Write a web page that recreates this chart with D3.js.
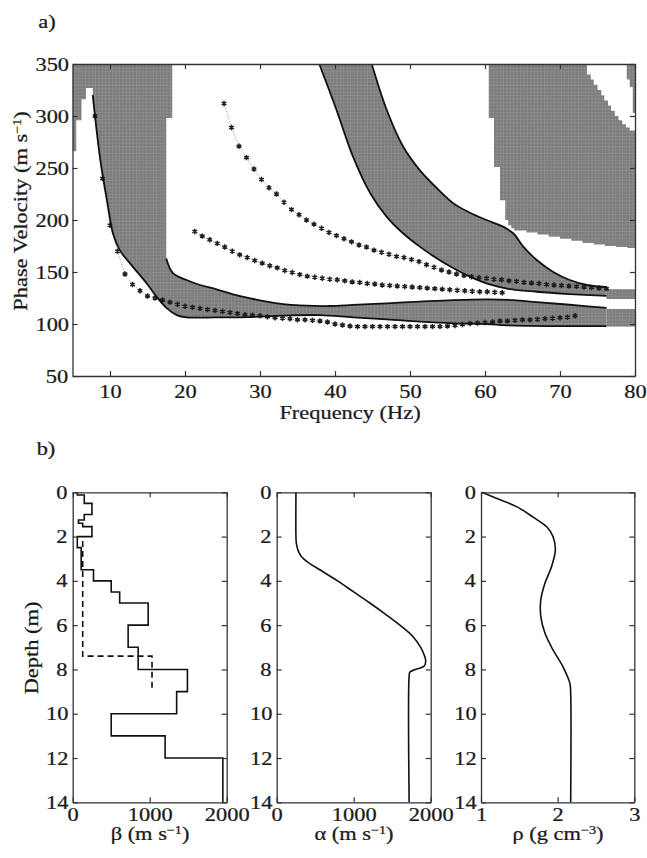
<!DOCTYPE html>
<html>
<head>
<meta charset="utf-8">
<script src="https://d3js.org/d3.v7.min.js"></script>
<style>
body { margin: 0; background: #fff; }
svg text {
  font-family: "Liberation Serif", "Times New Roman", serif;
  font-size: 19px;
  fill: #1a1a1a;
  stroke: #1a1a1a;
  stroke-width: 0.25px;
  transform-box: fill-box;
  transform-origin: center;
  transform: scaleX(1.18);
}
svg tspan.sup { font-size: 12px; }
</style>
</head>
<body>
<svg id="chart" width="647" height="858"></svg>
<script>
// ---- panel a) : dispersion data (frequency Hz, phase velocity m/s) ----
var freqTicks = [10, 20, 30, 40, 50, 60, 70, 80];
var velTicks = [50, 100, 150, 200, 250, 300, 350];

// black curves bounding the shaded bands
var bandOneLower = [[7.7,320],[8.7,258],[9.6,219],[10.4,187],[11.3,171],[12.7,158],[14.9,139],[16.2,126.3],[17.6,115],
  [18.9,108.6],[20.2,106.4],[24.2,106.4],[28.7,106.7],[33.1,108],[38,108.6],[42.4,106.4],[46.9,104.5],
  [51.3,102.2],[55.8,100.6],[60.2,100],[62.9,98.7],[69.1,98],[76.2,98]];
var bandOneUpper = [[17.5,163],[18.4,148.8],[20.2,142.3],[22,137.5],[24.2,133.4],[26.4,128.6],[28.7,124.7],
  [30.9,121.5],[33.1,119.2],[35.3,118],[39.3,117.3],[42.4,118.3],[46.9,119.9],[51.3,121.5],[55.8,123],
  [60.2,123.7],[63.8,123],[66.9,121],[71.3,118.5],[76.2,115.5]];
var bandTwoLower = [[37.9,350],[40.2,305.8],[42.4,260.9],[44.7,225.7],[46.9,203],[49.1,187],[51.3,174.4],
  [53.6,163],[55.8,153.6],[58,145.5],[60.2,139],[62.9,134],[66.9,131],[71.3,128.8],[76.2,127]];
var bandTwoUpper = [[44.9,350],[46.9,305.8],[49.1,270.5],[51.3,248],[53.6,230.5],[55.8,216],[58,207],
  [60.2,200],[62.4,193.6],[63.8,187],[65.1,174.4],[66.9,161.5],[69.1,150],[71.3,142.3],[73.6,137.5],[76.2,135.5]];

// shaded block edges
var leftBlockTop = [[5,266],[5,350],[18.3,350],[18.3,298],[17.5,298]];
var leftBlockNotch = [[7.7,327],[6.8,327],[6.8,316],[6.2,316],[6.2,296],[5.5,296],[5.5,266]];
var rightBlockLeft = [[60.5,350],[60.5,298],[61.2,298],[61.2,251],[62,251],[62,219],[62.7,219],[62.7,205]];
var rightBlockBottom = [[62.7,205],[63.1,200],[63.5,195],[63.9,192],[65.5,190],[67,188],[68.5,186],[70,184],
  [71.5,182],[73,180],[74.5,178],[76,176.5],[77.5,175],[79,174],[80,173]];
var whiteNotchLeft = [[73.6,350],[73.6,345],[74.1,340],[74.5,335],[75,330],[75.5,325],[75.9,320],[76.4,315],
  [76.8,310],[77.3,305],[77.8,300],[78.3,296],[78.8,292],[79.3,289],[79.8,286]];
var whiteNotchRight = [[80,286],[80,303],[79.7,303],[79.7,328],[79.3,328],[79.3,335],[78.9,335],[78.9,350]];
var tailBands = [[76.2,80,124,133.5],[76.2,80,97.5,114.5]];

// observed (asterisk) dispersion picks
var pickOne = [[8,300],[9,240],[10,195],[11,170],[12,148],[13,138],[14,132],[15,127],[16,125],[17,123],
  [18,121],[19,119],[20,117],[21,116],[22,115],[23,114],[24,113],[25,112],[26,111],[27,110],[28,109],
  [29,108.5],[30,108],[31,107],[32,106],[33,105.5],[34,105],[35,104],[36,104],[37,103.5],[38,103],
  [39,102],[40,100],[41,99],[42,98],[43,97.5],[44,97.5],[45,97.5],[46,97.5],[47,97.5],[48,97.5],
  [49,97.5],[50,97.5],[51,97.5],[52,97.5],[53,97.5],[54,97.5],[55,98],[56,98.5],[57,99.5],[58,100.5],
  [59,101],[60,101.5],[61,102],[62,103],[63,103],[64,103.5],[65,104],[66,104],[67,104.5],[68,105],
  [69,105.5],[70,106],[71,106.5],[72,108]];
var pickTwo = [[25.2,312],[26.2,289],[27.2,271],[28.2,260],[29.2,249],[30.2,239],[31.2,231],[32.2,225],
  [33.2,217],[34.2,210],[35.2,205],[36.2,200],[37.2,196],[38.2,192],[39.2,188],[40.2,185],[41.2,182],
  [42.2,179],[43.2,176],[44.2,174],[45.2,171],[46.2,169],[47.2,167],[48.2,165],[49.2,164],[50.2,162],
  [51.2,160],[52.2,157],[53.2,154.5],[54.2,152],[55.2,150],[56.2,148],[57.2,146.5],[58.2,145.5],
  [59.2,144.5],[60.2,144],[61.2,143],[62.2,142.5],[63.2,141.5],[64.2,141],[65.2,140],[66.2,139.5],
  [67.2,139],[68.2,138],[69.2,137.5],[70.2,137],[71.2,136.5],[72.2,136],[73.2,135.5],[74.2,135],
  [75.2,134.5],[76.2,134]];
var pickThree = [[21.3,189],[22.3,184.5],[23.3,181],[24.3,177.5],[25.3,174],[26.3,170],[27.3,166.5],
  [28.3,164],[29.3,161],[30.3,158.5],[31.3,156],[32.3,154],[33.3,151.5],[34.3,149.5],[35.3,147.5],
  [36.3,146],[37.3,145],[38.3,144],[39.3,143],[40.3,142.5],[41.3,141.5],[42.3,140.5],[43.3,140],
  [44.3,139],[45.3,138.5],[46.3,137.5],[47.3,137],[48.3,136.5],[49.3,136],[50.3,135.5],[51.3,135],
  [52.3,134.5],[53.3,134],[54.3,133.5],[55.3,133],[56.3,132.5],[57.3,132],[58.3,131.5],[59.3,131],
  [60.3,131],[61.3,130.5],[62.3,130]];

// ---- panel b) : profiles against depth (m) ----
var depthTicks = [0, 2, 4, 6, 8, 10, 12, 14];
var speedTicks = [0, 1000, 2000];
var densityTicks = [1, 2, 3];
var betaLayerTop = [0,0.12,0.5,1.0,1.25,1.4,1.55,2.0,2.5,3.5,4.0,4.5,5.0,6.0,7.0,8.0,9.0,10.0,11.0,12.0,14.0];
var betaLayerVal = [60,150,250,150,75,130,250,60,110,270,500,610,980,720,850,1490,1350,500,1200,1950];
var betaStart = [[130,2.2],[130,7.4],[1030,7.4],[1030,8.85]];
var alphaProfile = [[250,0],[250,2.0],[255,2.3],[275,2.6],[320,2.9],[420,3.2],[560,3.5],[790,4.0],[1000,4.5],
  [1210,5.0],[1410,5.5],[1600,6.0],[1765,6.5],[1870,7.0],[1910,7.3],[1935,7.6],[1915,7.85],[1800,8.0],
  [1730,8.12],[1720,8.3],[1720,14]];
var rhoProfile = [[1.01,0],[1.2,0.27],[1.47,0.66],[1.68,1.12],[1.86,1.57],[1.94,2.0],[1.97,2.6],[1.92,3.36],
  [1.835,4.1],[1.78,4.86],[1.78,5.6],[1.835,6.37],[1.94,7.12],[2.07,7.88],[2.16,8.63],[2.17,9.08],[2.17,14]];

var svg = d3.select('#chart');

var defs = svg.append('defs');
var pat = defs.append('pattern').attr('id', 'cells')
  .attr('width', 3.4).attr('height', 3.4).attr('patternUnits', 'userSpaceOnUse');
pat.append('rect').attr('width', 3.4).attr('height', 3.4).attr('fill', '#7c7c7c');
pat.append('path').attr('d', 'M0 0.3H3.4M0.3 0V3.4').attr('stroke', '#959595').attr('stroke-width', 0.6);

// scales
var fx = d3.scaleLinear().domain([5, 80]).range([72.5, 635]);
var vy = d3.scaleLinear().domain([50, 350]).range([376, 64]);
var dy = d3.scaleLinear().domain([0, 14]).range([492.3, 802.3]);
var betaX = d3.scaleLinear().domain([0, 2000]).range([72.7, 226.7]);
var alphaX = d3.scaleLinear().domain([0, 2000]).range([276.7, 430.7]);
var rhoX = d3.scaleLinear().domain([1, 3]).range([481, 634.3]);

var straight = d3.line().x(function (d) { return fx(d[0]); }).y(function (d) { return vy(d[1]); });
var smooth = d3.line().curve(d3.curveCatmullRom).x(function (d) { return fx(d[0]); }).y(function (d) { return vy(d[1]); });
function joined(parts) {
  return parts.map(function (p, i) {
    var s = (p.smooth ? smooth : straight)(p.pts);
    return i ? 'L' + s.slice(1) : s;
  }).join('') + 'Z';
}

// ---- panel a ----
svg.append('clipPath').attr('id', 'clipA').append('rect')
  .attr('x', fx(5)).attr('y', vy(350)).attr('width', fx(80) - fx(5)).attr('height', vy(50) - vy(350));
var a = svg.append('g').attr('clip-path', 'url(#clipA)');

a.append('path').attr('fill', 'url(#cells)').attr('d', joined([
  { pts: leftBlockTop },
  { pts: bandOneUpper, smooth: true },
  { pts: bandOneLower.slice().reverse(), smooth: true },
  { pts: leftBlockNotch }
]));
a.append('path').attr('fill', 'url(#cells)').attr('d', joined([
  { pts: bandTwoLower, smooth: true },
  { pts: bandTwoUpper.slice().reverse(), smooth: true }
]));
a.selectAll('rect.tail').data(tailBands).enter().append('rect').attr('class', 'tail')
  .attr('fill', 'url(#cells)')
  .attr('x', function (d) { return fx(d[0]); }).attr('width', function (d) { return fx(d[1]) - fx(d[0]); })
  .attr('y', function (d) { return vy(d[3]); }).attr('height', function (d) { return vy(d[2]) - vy(d[3]); });

var stairs = d3.line().curve(d3.curveStepBefore).x(function (d) { return fx(d[0]); }).y(function (d) { return vy(d[1]); });
a.append('path').attr('fill', 'url(#cells)').attr('d',
  straight(rightBlockLeft) + 'L' + stairs(rightBlockBottom).slice(1) + 'L' + fx(80) + ',' + vy(350) + 'Z');
a.append('path').attr('fill', '#fff').attr('d',
  stairs(whiteNotchLeft) + 'L' + straight(whiteNotchRight).slice(1) + 'Z');

// picks: dotted connector + asterisks
[pickOne, pickTwo, pickThree].forEach(function (pick) {
  a.append('path').attr('d', straight(pick)).attr('fill', 'none')
    .attr('stroke', '#777').attr('stroke-width', 0.8).attr('stroke-dasharray', '1 1.6');
  a.selectAll(null).data(pick).enter().append('path')
    .attr('transform', function (d) { return 'translate(' + fx(d[0]) + ',' + vy(d[1]) + ')'; })
    .attr('d', d3.symbol().type(d3.symbolAsterisk).size(20))
    .attr('fill', 'none').attr('stroke', '#1e1e1e').attr('stroke-width', 1.5);
});

[bandOneLower, bandOneUpper, bandTwoLower, bandTwoUpper].forEach(function (c) {
  a.append('path').attr('d', smooth(c)).attr('fill', 'none')
    .attr('stroke', '#111').attr('stroke-width', 1.8);
});

// box with inward ticks on all four sides, labels bottom and left
function frame(g, x, y, xt, yt, xpad) {
  var x0 = x.range()[0], x1 = x.range()[1];
  var yb = d3.max(y.range()), yt0 = d3.min(y.range());
  g.append('g').attr('transform', 'translate(0,' + yb + ')')
    .call(d3.axisBottom(x).tickValues(xt).tickSize(-5).tickSizeOuter(0).tickPadding(xpad).tickFormat(d3.format('d')));
  g.append('g').attr('transform', 'translate(0,' + yt0 + ')')
    .call(d3.axisTop(x).tickValues(xt).tickSize(-5).tickSizeOuter(0).tickFormat(''));
  g.append('g').attr('transform', 'translate(' + x0 + ',0)')
    .call(d3.axisLeft(y).tickValues(yt).tickSize(-5).tickSizeOuter(0).tickPadding(6).tickFormat(d3.format('d')));
  g.append('g').attr('transform', 'translate(' + x1 + ',0)')
    .call(d3.axisRight(y).tickValues(yt).tickSize(-5).tickSizeOuter(0).tickFormat(''));
  g.selectAll('.domain').attr('stroke', '#333').attr('stroke-width', 1.3);
  g.selectAll('.tick line').attr('stroke', '#333').attr('stroke-width', 1.2);
}
frame(svg.append('g'), fx, vy, freqTicks, velTicks, 9);

function label(x, y, rot, parts) {
  var t = svg.append('g').attr('transform', 'translate(' + x + ',' + y + ')' + (rot ? ' rotate(' + rot + ')' : ''))
    .append('text').attr('text-anchor', 'middle');
  parts.forEach(function (p) {
    var s = t.append('tspan').text(p[0]);
    if (p[1]) s.attr('class', 'sup').attr('baseline-shift', 'super');
  });
}
label(47, 28, 0, [['a)']]);
label(350, 419, 0, [['Frequency (Hz)']]);
label(27, 211, -90, [['Phase Velocity (m s'], ['\u22121', true], [')']]);

// ---- panel b ----
var betaPts = [];
betaLayerVal.forEach(function (v, i) { betaPts.push([v, betaLayerTop[i]], [v, betaLayerTop[i + 1]]); });

function profile(x, pts, dash, curve) {
  var ln = d3.line().x(function (d) { return x(d[0]); }).y(function (d) { return dy(d[1]); });
  if (curve) ln.curve(d3.curveCatmullRom);
  svg.append('path').attr('d', ln(pts)).attr('fill', 'none').attr('stroke', '#111')
    .attr('stroke-width', 1.6).attr('stroke-dasharray', dash || null);
}
profile(betaX, betaPts);
profile(betaX, betaStart, '6 4');
profile(alphaX, alphaProfile, null, true);
profile(rhoX, rhoProfile, null, true);

frame(svg.append('g'), betaX, dy, speedTicks, depthTicks, 5);
frame(svg.append('g'), alphaX, dy, speedTicks, depthTicks, 5);
frame(svg.append('g'), rhoX, dy, densityTicks, depthTicks, 5);

label(46, 455, 0, [['b)']]);
label(38, 648, -90, [['Depth (m)']]);
label(150, 840, 0, [['\u03b2 (m s'], ['\u22121', true], [')']]);
label(354, 840, 0, [['\u03b1 (m s'], ['\u22121', true], [')']]);
label(558, 840, 0, [['\u03c1 (g cm'], ['\u22123', true], [')']]);
</script>
</body>
</html>
